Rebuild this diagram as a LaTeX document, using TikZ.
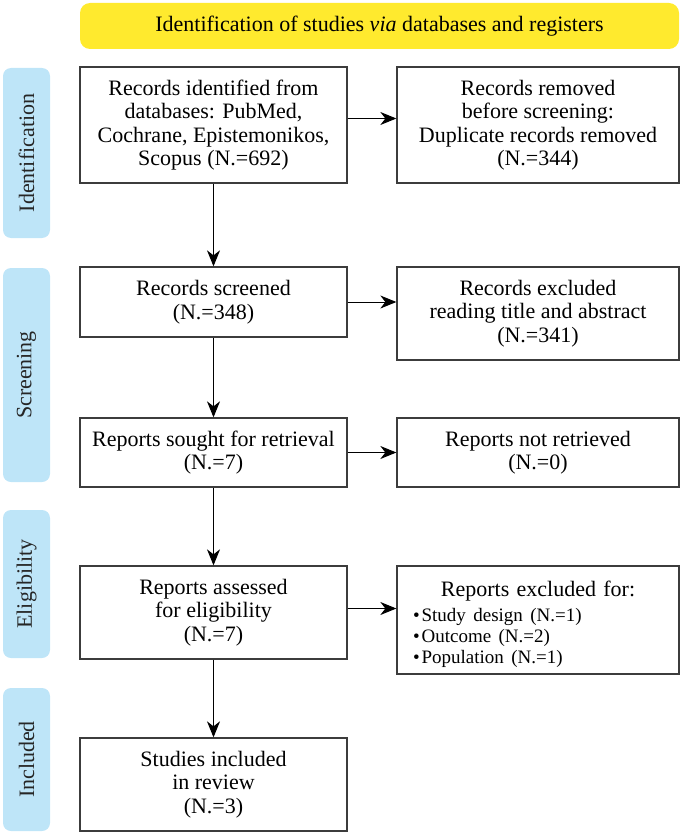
\documentclass[tikz,border=0pt]{standalone}
\usepackage{fontspec}
\setmainfont{Liberation Serif}
\usetikzlibrary{arrows.meta}
\definecolor{bannery}{RGB}{255,234,46}
\definecolor{sideb}{RGB}{190,229,248}
\definecolor{boxline}{RGB}{60,60,60}
\begin{document}
\begin{tikzpicture}[x=1pt,y=-1pt,
  every node/.style={font=\fontsize{22}{23.5}\selectfont},
  box/.style={draw=boxline, line width=1.3pt, fill=white, align=center, inner sep=0pt},
  side/.style={fill=sideb, rounded corners=8pt, rotate=90, minimum height=47pt, inner sep=0pt, text=black!85},
  arr/.style={-{Stealth[length=16pt,width=13pt,inset=5pt]}, line width=1pt, black},
]
\useasboundingbox (0,0) rectangle (680,832);
\node[fill=bannery, rounded corners=10pt, minimum width=599pt, minimum height=46pt, inner sep=0pt] (ban) at (379.5,26) {Identification of studies \textit{via} databases and registers};

\node[side, minimum width=170pt] (s1) at (26.5,153) {Identification};
\node[side, minimum width=214pt] (s2) at (26.5,375) {Screening};
\node[side, minimum width=148pt] (s3) at (26.5,584) {Eligibility};
\node[side, minimum width=143pt] (s4) at (26.5,759.5) {Included};

\node[box, minimum width=267pt, minimum height=116pt] (b1) at (213.5,125) {Records identified from\\databases: PubMed,\\Cochrane, Epistemonikos,\\Scopus (N.=692)};
\node[box, minimum width=282pt, minimum height=116pt] (b2) at (538,125) {Records removed\\before screening:\\Duplicate records removed\\(N.=344)};
\node[box, minimum width=267pt, minimum height=70pt] (b3) at (213.5,302) {Records screened\\(N.=348)};
\node[box, minimum width=282pt, minimum height=93pt] (b4) at (538,313.5) {Records excluded\\reading title and abstract\\(N.=341)};
\node[box, minimum width=267pt, minimum height=69pt] (b5) at (213.5,452.5) {Reports sought for retrieval\\(N.=7)};
\node[box, minimum width=282pt, minimum height=69pt] (b6) at (538,452.5) {Reports not retrieved\\(N.=0)};
\node[box, minimum width=267pt, minimum height=93pt] (b7) at (213.5,612.5) {Reports assessed\\for eligibility\\(N.=7)};
\node[draw=boxline, line width=1.3pt, fill=white, minimum width=282pt, minimum height=108pt, text width=250pt, inner xsep=16pt, inner ysep=0pt] (b8) at (538,620) {\centering\rule{0pt}{23.5pt}Reports excluded for:\par\vspace{4pt}\raggedright\fontsize{19}{21}\selectfont \textbullet\hspace{2pt}Study design (N.=1)\\\textbullet\hspace{2pt}Outcome (N.=2)\\\textbullet\hspace{2pt}Population (N.=1)\par};
\node[box, minimum width=267pt, minimum height=93pt] (b9) at (213.5,784.5) {Studies included\\in review\\(N.=3)};

\draw[arr] ([yshift=6.5pt]b1.east) -- ([yshift=6.5pt]b2.west);
\draw[arr] (b1) -- (b3);
\draw[arr] (b3.east) -- (b3.east -| b4.west);
\draw[arr] (b3) -- (b5);
\draw[arr] (b5.east) -- (b5.east -| b6.west);
\draw[arr] (b5) -- (b7);
\draw[arr] ([yshift=4pt]b7.east) -- ([yshift=4pt]b7.east -| b8.west);
\draw[arr] (b7) -- (b9);
\end{tikzpicture}
\end{document}
